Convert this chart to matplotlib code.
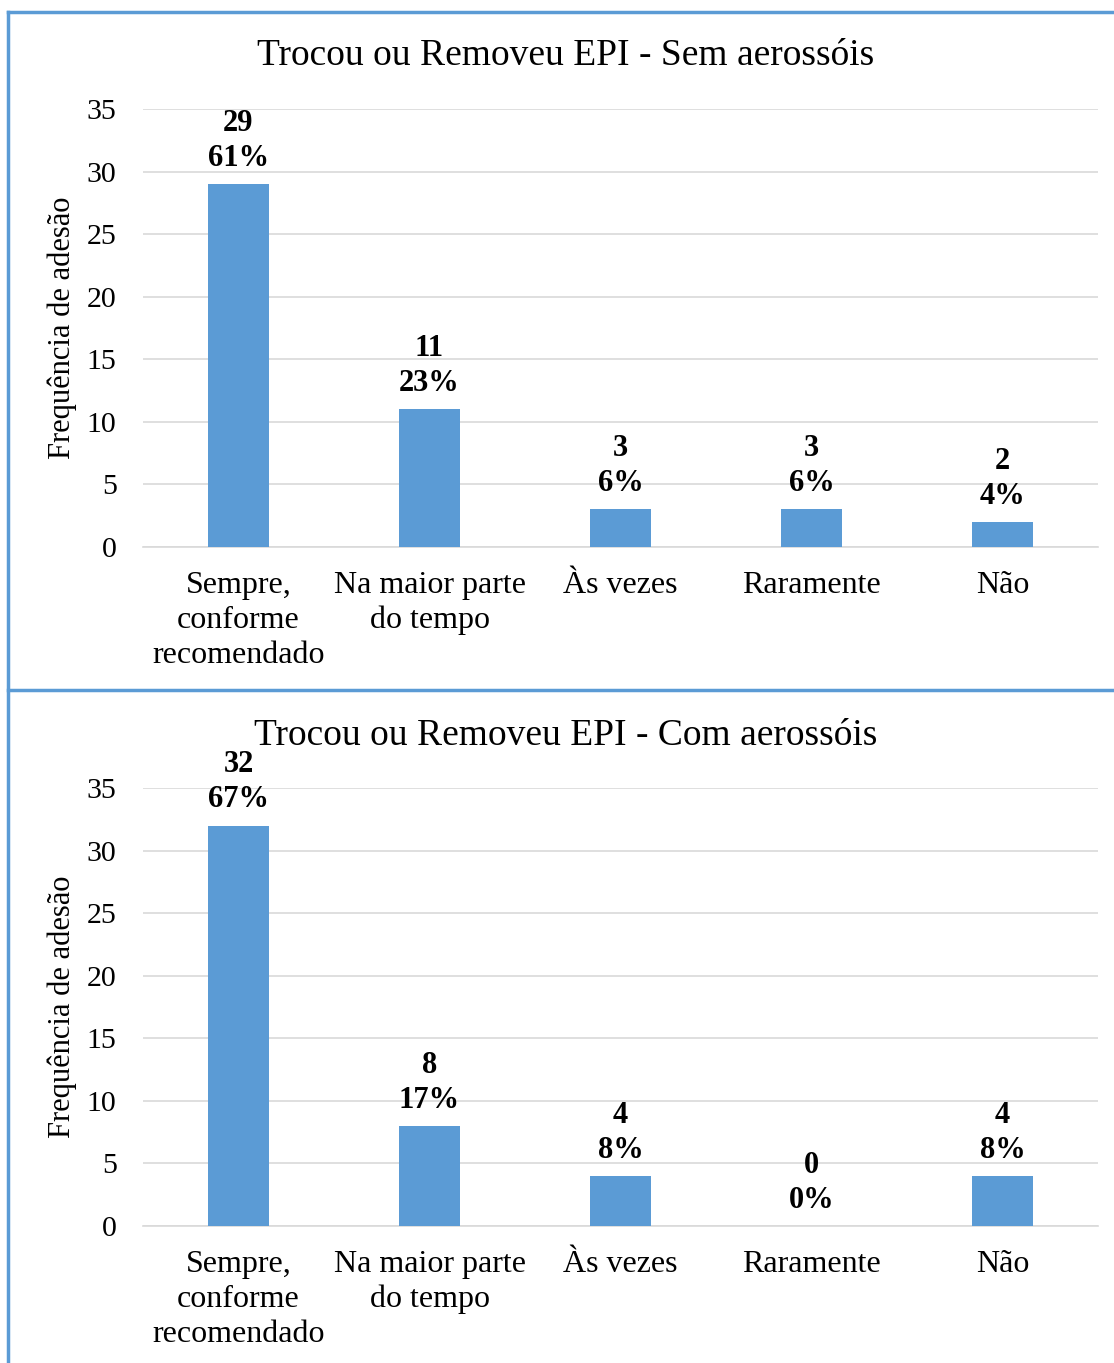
import matplotlib.pyplot as plt
from matplotlib.lines import Line2D


CATEGORIES = [
    "Sempre,\nconforme\nrecomendado",
    "Na maior parte\ndo tempo",
    "Às vezes",
    "Raramente",
    "Não",
]

SEM_COUNTS = [29, 11, 3, 3, 2]
SEM_PCT = [61, 23, 6, 6, 4]

COM_COUNTS = [32, 8, 4, 0, 4]
COM_PCT = [67, 17, 8, 0, 8]

TITLES = [
    "Trocou ou Removeu EPI - Sem aerossóis",
    "Trocou ou Removeu EPI - Com aerossóis",
]

BAR_COLOR = "#5B9BD5"
GRID_COLOR = "#D9D9D9"
FRAME_COLOR = "#5B9BD5"

plt.rcParams["font.family"] = ["Liberation Serif", "DejaVu Serif"]

W, H = 1114, 1363
fig = plt.figure(figsize=(W / 100, H / 100), dpi=100)


def px(x, y):
    return x / W, 1 - y / H


panels = [
    (SEM_COUNTS, SEM_PCT, TITLES[0], 109, 547, 56),
    (COM_COUNTS, COM_PCT, TITLES[1], 788, 1226, 736),
]

for counts, pct, title, top, bottom, title_y in panels:
    left, right = 143, 1098
    ax = fig.add_axes([
        left / W,
        1 - bottom / H,
        (right - left) / W,
        (bottom - top) / H,
    ])

    xs = range(len(CATEGORIES))
    ax.bar(xs, counts, width=0.315, color=BAR_COLOR, zorder=3)

    for x, c, p in zip(xs, counts, pct):
        ax.annotate(
            f"{c}\n{p}%",
            xy=(x, c),
            xytext=(0, 8),
            textcoords="offset points",
            ha="center",
            va="bottom",
            fontsize=22,
            fontweight="bold",
            linespacing=1.28,
            zorder=4,
        )

    ax.set_xlim(-0.5, len(CATEGORIES) - 0.5)
    ax.set_ylim(0, 35)
    ax.set_yticks(range(0, 36, 5))
    ax.set_xticks(list(xs))
    ax.set_xticklabels(CATEGORIES, fontsize=23, linespacing=1.28)
    ax.tick_params(axis="y", length=0, pad=19, labelsize=21.5)
    ax.tick_params(axis="x", length=0, pad=17)

    ax.grid(axis="y", color=GRID_COLOR, linewidth=1.2, zorder=0)
    for side in ["top", "right", "left"]:
        ax.spines[side].set_visible(False)
    ax.spines["bottom"].set_color(GRID_COLOR)
    ax.spines["bottom"].set_linewidth(1.2)

    ax.set_ylabel("Frequência de adesão", fontsize=22)
    ax.yaxis.set_label_coords(-0.069, 0.5)

    tx, ty = px(566, title_y)
    fig.text(tx, ty, title, ha="center", va="center", fontsize=27)

# outer frame and divider between the two charts
frame = [
    ((8, 8), (12, H)),
    ((8, W), (12, 12)),
    ((8, W), (690, 690)),
]
for xs_px, ys_px in frame:
    fig.add_artist(Line2D(
        [x / W for x in xs_px],
        [1 - y / H for y in ys_px],
        color=FRAME_COLOR,
        linewidth=2.5,
    ))

fig.savefig("out.png", dpi=100, facecolor="white")
